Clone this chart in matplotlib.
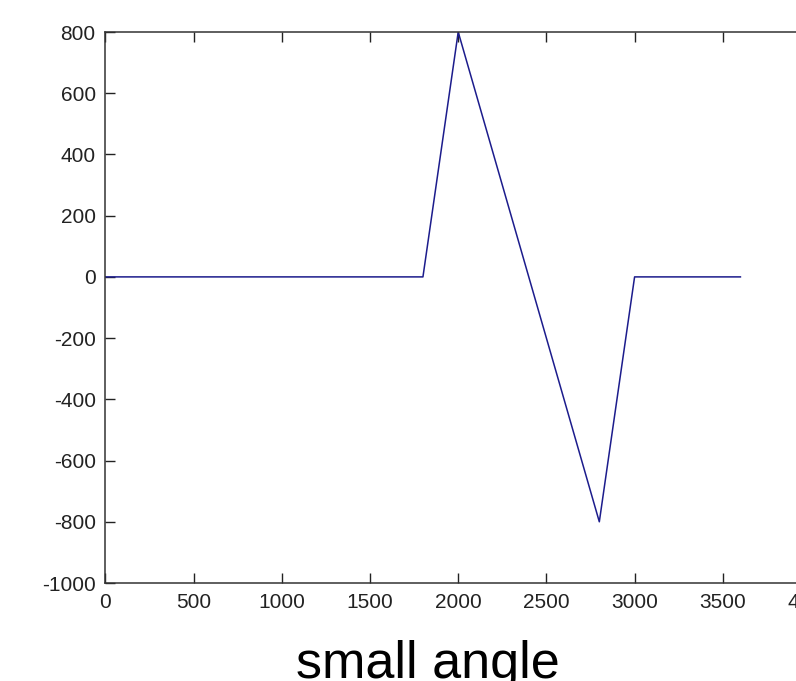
import matplotlib
matplotlib.use("Agg")
import matplotlib.pyplot as plt
import numpy as np

# piecewise-linear profile
t = [0, 1800, 2000, 2800, 3000, 3600]
v = [0, 0, 800, -800, 0, 0]

xticks = np.arange(0, 4001, 500)
yticks = np.arange(-1000, 801, 200)

plt.rcParams['font.family'] = ['Liberation Sans', 'DejaVu Sans']
plt.rcParams['axes.unicode_minus'] = False

fig = plt.figure(figsize=(7.96, 6.81), dpi=100)
# axes runs past the right edge of the figure
ax = fig.add_axes([0.1325, 0.1439, 0.8863, 0.8091])

ax.plot(t, v, color='#1c1c8c', linewidth=1.1)

ax.set_xlim(0, 4000)
ax.set_ylim(-1000, 800)
ax.set_xticks(xticks)
ax.set_yticks(yticks)
ax.tick_params(direction='in', length=7, width=1, top=True, right=True,
               labelsize=15, colors='#222222', pad=7)
for s in ax.spines.values():
    s.set_linewidth(1.1)
    s.set_color('#333333')

fig.text(0.538, 0.004, 'small angle', fontsize=37.5, ha='center',
         va='baseline', color='black')

fig.savefig('out.png', dpi=100)
